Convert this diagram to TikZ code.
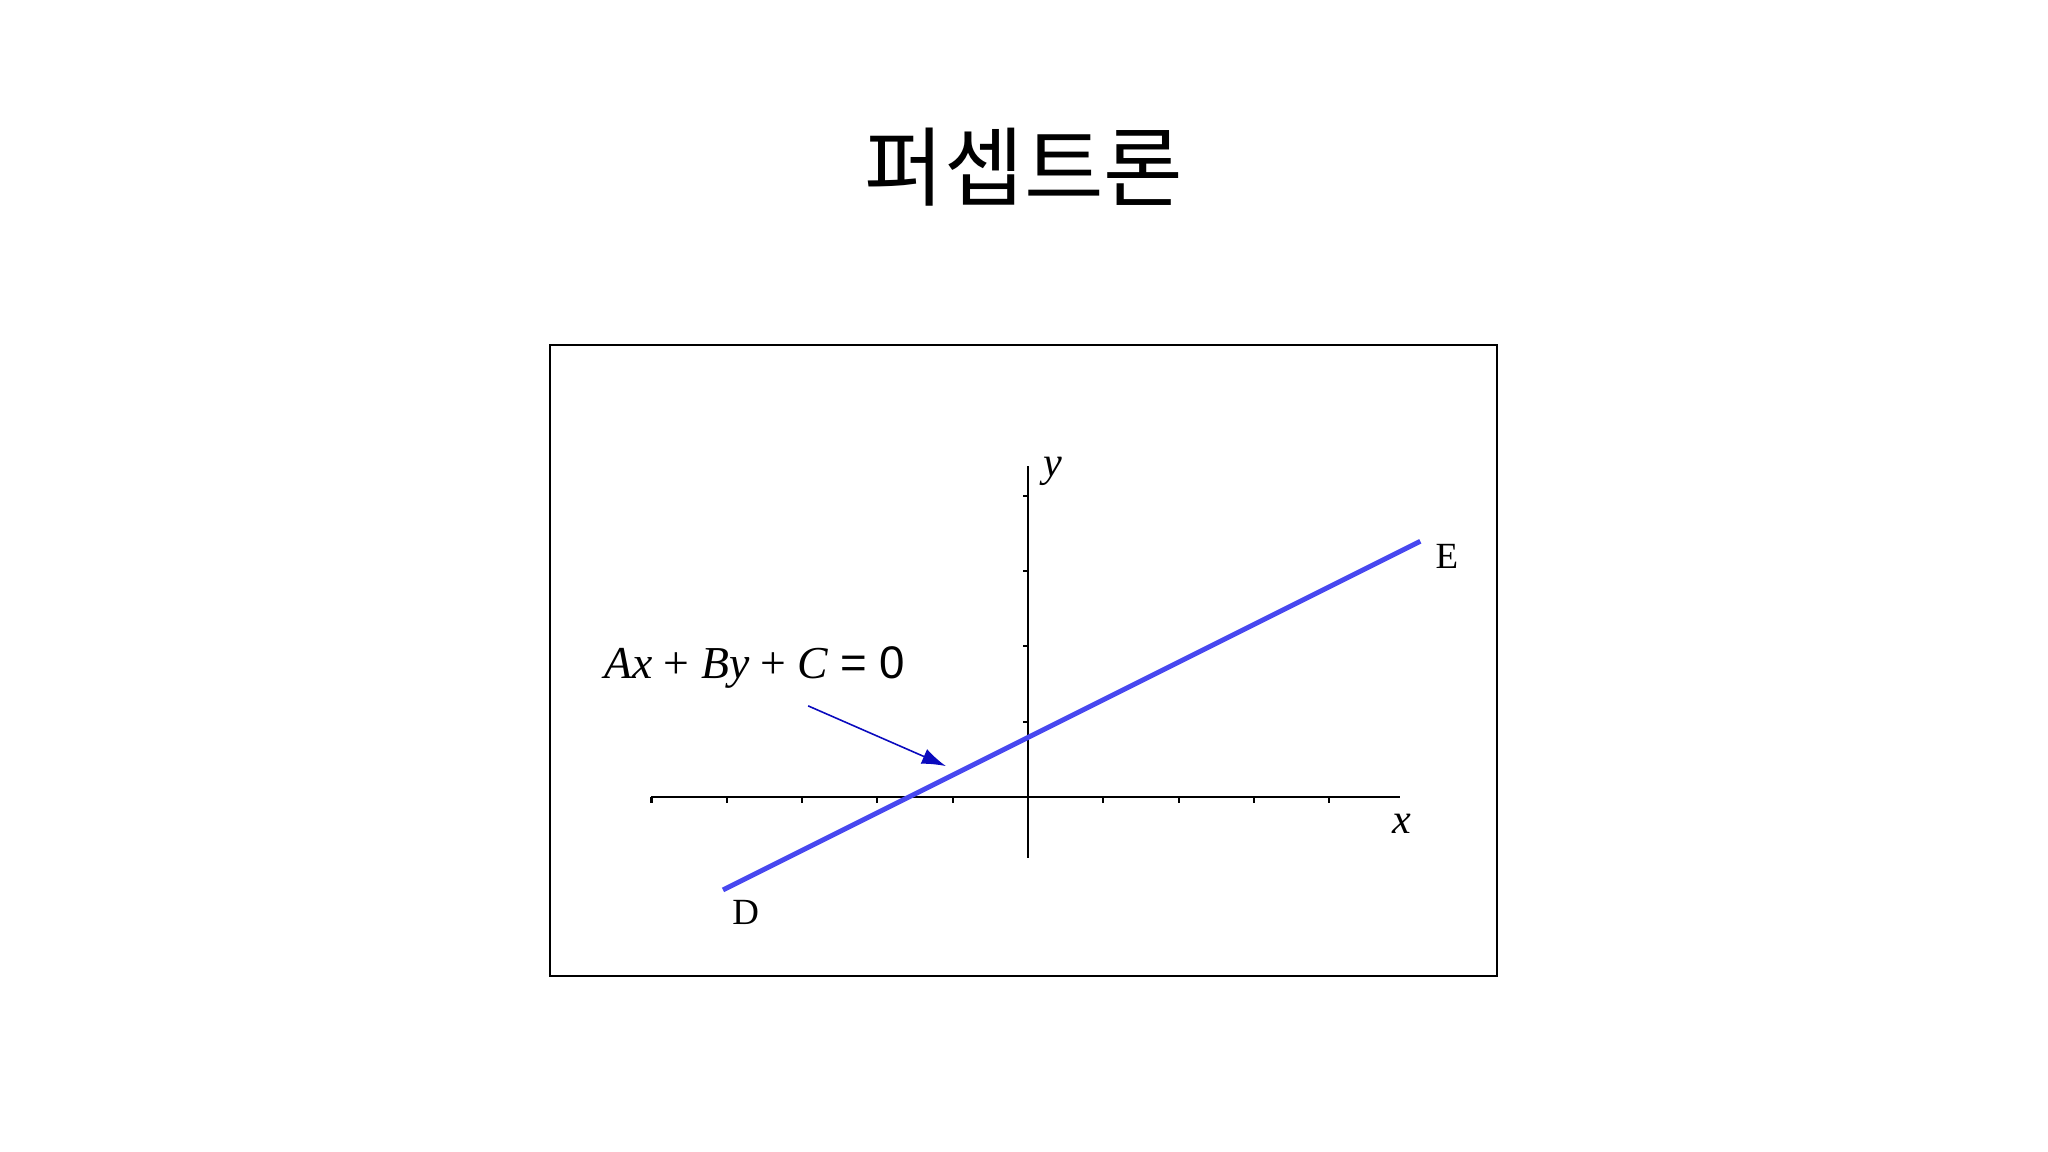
\documentclass[tikz,border=0pt]{standalone}
\usepackage{fontspec}
\setmainfont{Liberation Serif}
\setsansfont{Liberation Sans}
\newfontfamily\krfont{Noto Sans CJK KR}
\usetikzlibrary{positioning,arrows.meta}
\definecolor{lineblue}{RGB}{72,72,240}
\definecolor{arrowblue}{RGB}{10,10,190}

\begin{document}
\begin{tikzpicture}
    \useasboundingbox (0,0) rectangle (20.48,11.52);
    \node (title) at (10.24,9.85) {\krfont\fontsize{24.6}{29}\selectfont 퍼셉트론};
    \draw[line width=0.6pt] (5.50,1.76) rectangle (14.97,8.07);
    \begin{scope}[shift={(10.28,3.55)},x=0.753cm,y=0.753cm,line width=0.6pt]
        \coordinate (O) at (0,0);
        \coordinate (xl) at (-5,0);
        \coordinate (xr) at (4.94,0);
        \coordinate (yb) at (0,-0.81);
        \coordinate (yt) at (0,4.4);
        \draw (xl) -- (xr);
        \draw (yb) -- (yt);
        \foreach \t in {-5,-4,-3,-2,-1,1,2,3,4}
            \draw (\t,0) -- (\t,-0.08);
        \foreach \t in {1,2,3,4}
            \draw (0,\t) -- (-0.07,\t);
        \node[anchor=base west,inner sep=0pt,font=\fontsize{12}{14}\selectfont\itshape] (xlab) at (4.83,-0.48) {x};
        \node[anchor=base west,inner sep=0pt,font=\fontsize{12}{14}\selectfont\itshape] (ylab) at (0.19,4.25) {y};
        % the line
        \coordinate (D) at (-4.05,-1.235);
        \coordinate (E) at (5.21,3.395);
        \draw[lineblue,line width=1.4pt] (D) -- (E);
        \node[anchor=base west,inner sep=0pt,font=\fontsize{10.5}{12}\selectfont] (Dlab) at (-3.94,-1.69) {D};
        \node[anchor=base west,inner sep=0pt,font=\fontsize{10.5}{12}\selectfont] (Elab) at (5.40,3.04) {E};
        % equation and pointer
        \node[anchor=base west,inner sep=0pt,font=\fontsize{13}{15}\selectfont] (eq) at (-5.64,1.57)
            {\textit{Ax} + \textit{By} + \textit{C} {\sffamily = 0}};
        \coordinate (p1) at (-2.92,1.21);
        \coordinate (p2) at (-1.09,0.41);
        \draw[arrowblue,line width=0.45pt,-{Latex[length=0.24cm,width=0.16cm]}] (p1) -- (p2);
    \end{scope}
\end{tikzpicture}
\end{document}
